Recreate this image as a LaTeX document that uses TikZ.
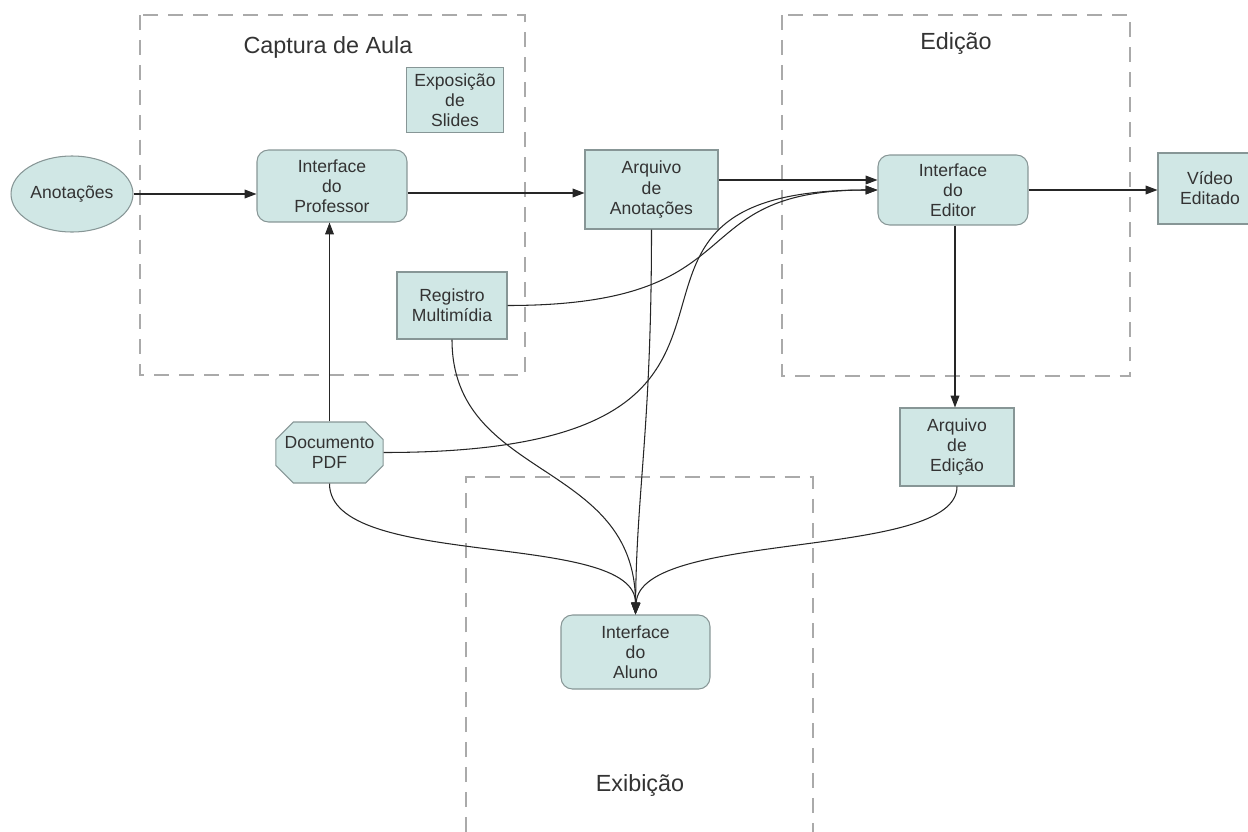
\documentclass[tikz,border=0pt]{standalone}
\usepackage{fontspec}
\setmainfont{Liberation Sans}
\usetikzlibrary{arrows.meta,shapes.geometric,shapes.misc}

\definecolor{boxfill}{RGB}{208,231,229}
\definecolor{boxline}{RGB}{135,150,150}
\definecolor{txt}{RGB}{51,51,51}
\definecolor{zone}{RGB}{170,170,170}

\tikzset{
  base/.style={draw=boxline, fill=boxfill, line width=0.6pt, text=txt, align=center,
    inner sep=0pt, font=\fontsize{10}{11.4}\selectfont},
  sqbox/.style={base, rectangle},
  rbox/.style={base, rectangle, rounded corners=6.5pt},
  ovalbox/.style={base, ellipse},
  octbox/.style={base, chamfered rectangle, chamfered rectangle xsep=5pt, chamfered rectangle ysep=5pt},
  zoneline/.style={draw=zone, line width=0.7pt, dash pattern=on 8.5pt off 5.7pt},
  zonetitle/.style={text=txt, font=\fontsize{13.3}{15}\selectfont},
  flow/.style={draw=black!85, line width=0.6pt, -{Triangle[length=6.8pt,width=5pt]}},
}

\begin{document}
\begin{tikzpicture}[x=0.02cm, y=-0.02cm]
\useasboundingbox (0,0) rectangle (1248,832);

% dashed zones
\draw[zoneline] (140,15) rectangle (525,375);
\draw[zoneline] (782,15) rectangle (1130,376);
\draw[zoneline] (466,832) -- (466,477) -- (813,477) -- (813,832);
\node[zonetitle] (tcap) at (328,47) {Captura de Aula};
\node[zonetitle] (tedi) at (956,44) {Edição};
\node[zonetitle] (texi) at (640,786) {Exibição};

% components
\node[ovalbox, minimum width=24.4mm, minimum height=15.2mm] (ann) at (72,194) {Anotações};
\node[rbox, minimum width=30mm, minimum height=14.4mm] (prof) at (332,186) {Interface\\do\\Professor};
\node[sqbox, minimum width=19.4mm, minimum height=13mm] (slides) at (455,100) {Exposição\\de\\Slides};
\node[sqbox, minimum width=26.6mm, minimum height=15.8mm] (arq) at (651.5,189.5) {Arquivo\\de\\Anotações};
\node[sqbox, minimum width=22mm, minimum height=13.4mm] (reg) at (452,305.5) {Registro\\Multimídia};
\node[rbox, minimum width=30mm, minimum height=14mm] (ed) at (953,190) {Interface\\do\\Editor};
\node[sqbox, minimum width=20.8mm, minimum height=14.2mm] (vid) at (1210,188.5) {Vídeo\\Editado};
\node[octbox, minimum width=19.8mm, minimum height=12.2mm] (pdf) at (329.5,452.5) {Documento\\PDF};
\node[sqbox, minimum width=22.8mm, minimum height=15.6mm] (ae) at (957,447) {Arquivo\\de\\Edição};
\node[rbox, minimum width=29.8mm, minimum height=14.8mm] (alu) at (635.5,652) {Interface\\do\\Aluno};

% straight connectors
\draw[flow] (ann.east) -- (ann.east -| prof.west);
\draw[flow] ([yshift=-1.4mm]prof.east) -- ([yshift=-1.4mm]prof.east -| arq.west);
\draw[flow] ([yshift=1.9mm]arq.east) -- ([yshift=1.9mm]arq.east -| ed.west);
\draw[flow] (ed.east) -- (ed.east -| vid.west);
\draw[flow] ([xshift=0.4mm]ed.south) -- ([xshift=0.4mm]ed.south |- ae.north);
\draw[flow] (pdf.north) -- (pdf.north |- prof.south);

% curved connectors into the editor
\draw[flow] (reg.east) .. controls +(253,0) and +(-201,0) .. (ed.west);
\draw[flow] (pdf.east) .. controls +(471,0) and +(-342,0) .. (ed.west);

% curved connectors into the student interface
\draw[flow] (pdf.south) .. controls +(0,87) and +(0,-85) .. (alu.north);
\draw[flow] (reg.south) .. controls +(0,141) and +(0,-155) .. (alu.north);
\draw[flow] (arq.south) .. controls +(0,200) and +(1,-125) .. (alu.north);
\draw[flow] (ae.south) .. controls +(0,74) and +(5,-85) .. (alu.north);
\end{tikzpicture}
\end{document}
